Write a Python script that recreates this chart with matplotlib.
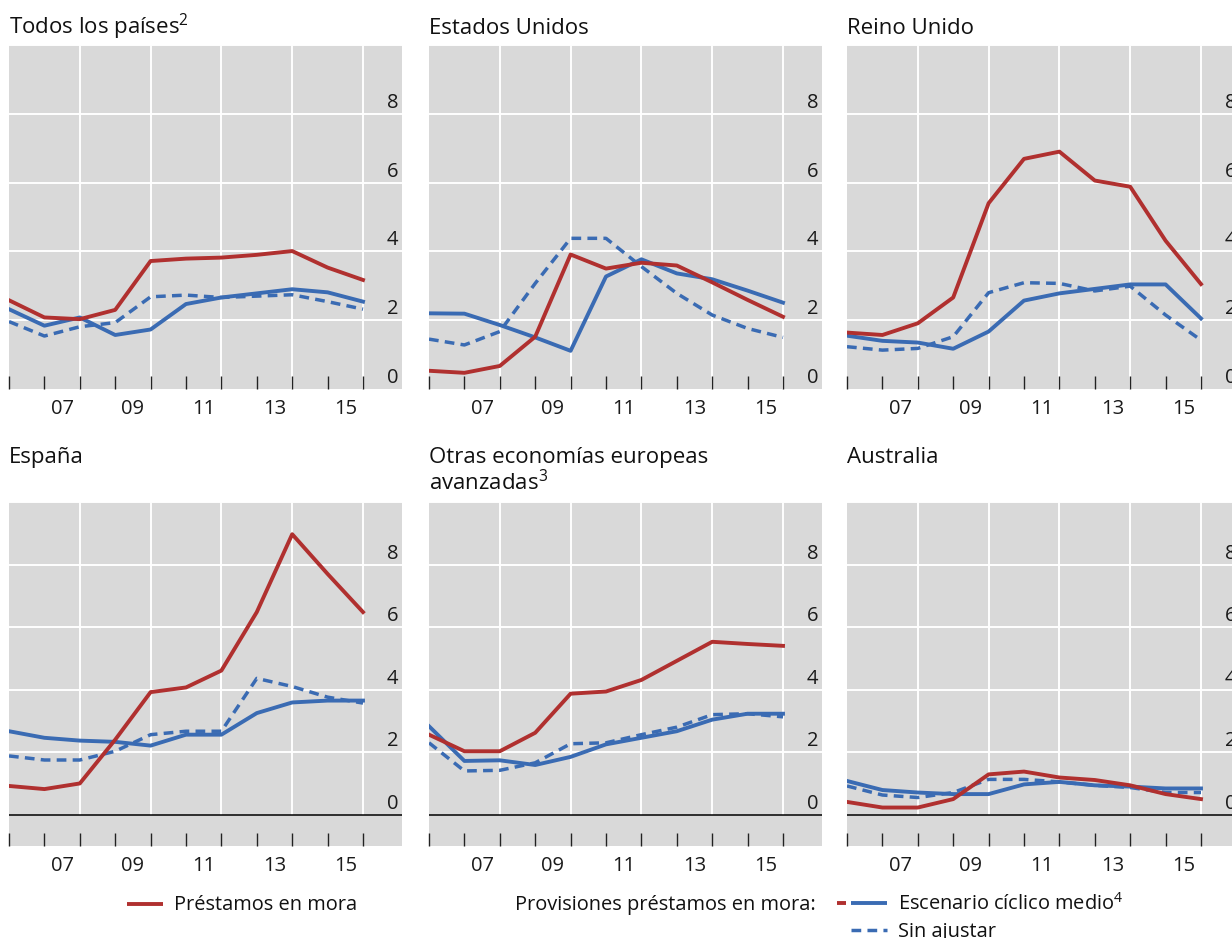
import matplotlib
matplotlib.use("Agg")
import matplotlib.pyplot as plt
from matplotlib.lines import Line2D
from matplotlib import transforms as mtransforms

plt.rcParams['font.family'] = ['Open Sans', 'DejaVu Sans']
plt.rcParams['mathtext.fontset'] = 'custom'
plt.rcParams['mathtext.rm'] = 'Open Sans'
plt.rcParams['mathtext.it'] = 'Open Sans:italic'
plt.rcParams['mathtext.bf'] = 'Open Sans:bold'

# ---------------- data ----------------
years = list(range(2005, 2016))            # year-end observations
xtick_years = [2007, 2009, 2011, 2013, 2015]
xtick_labels = ['07', '09', '11', '13', '15']
ytick_values = [0, 2, 4, 6, 8]

titles = [
    ["Todos los países$^2$"],
    ["Estados Unidos"],
    ["Reino Unido"],
    ["España"],
    ["Otras economías europeas", "avanzadas$^3$"],
    ["Australia"],
]

# Préstamos en mora
npl_todos = [2.58, 2.08, 2.03, 2.30, 3.72, 3.79, 3.82, 3.90, 4.01, 3.53, 3.17]
npl_eeuu = [0.53, 0.47, 0.67, 1.52, 3.91, 3.50, 3.67, 3.59, 3.10, 2.59, 2.10]
npl_ru = [1.64, 1.57, 1.91, 2.66, 5.40, 6.69, 6.90, 6.06, 5.88, 4.31, 3.05]
npl_esp = [0.92, 0.82, 1.00, 2.40, 3.92, 4.07, 4.61, 6.48, 8.97, 7.70, 6.48]
npl_otras = [2.56, 2.03, 2.03, 2.62, 3.87, 3.94, 4.31, 4.92, 5.53, 5.46, 5.40]
npl_aus = [0.41, 0.23, 0.23, 0.50, 1.29, 1.38, 1.19, 1.11, 0.94, 0.66, 0.50]

# Provisiones: escenario cíclico medio
cyc_todos = [2.32, 1.84, 2.08, 1.57, 1.73, 2.47, 2.66, 2.78, 2.90, 2.81, 2.54]
cyc_eeuu = [2.20, 2.19, 1.86, 1.50, 1.11, 3.27, 3.77, 3.36, 3.19, 2.86, 2.51]
cyc_ru = [1.55, 1.40, 1.35, 1.17, 1.67, 2.57, 2.78, 2.91, 3.04, 3.04, 2.05]
cyc_esp = [2.67, 2.46, 2.37, 2.33, 2.21, 2.56, 2.56, 3.25, 3.59, 3.65, 3.65]
cyc_otras = [2.83, 1.72, 1.74, 1.59, 1.85, 2.25, 2.46, 2.67, 3.04, 3.23, 3.23]
cyc_aus = [1.08, 0.79, 0.71, 0.66, 0.66, 0.97, 1.05, 0.94, 0.90, 0.84, 0.84]

# Provisiones: sin ajustar
raw_todos = [1.96, 1.54, 1.81, 1.93, 2.68, 2.73, 2.66, 2.70, 2.74, 2.54, 2.32]
raw_eeuu = [1.45, 1.28, 1.67, 3.07, 4.38, 4.38, 3.56, 2.78, 2.15, 1.76, 1.50]
raw_ru = [1.23, 1.13, 1.18, 1.52, 2.80, 3.09, 3.07, 2.85, 2.99, 2.15, 1.42]
raw_esp = [1.88, 1.75, 1.75, 2.03, 2.56, 2.67, 2.67, 4.36, 4.10, 3.76, 3.57]
raw_otras = [2.30, 1.40, 1.42, 1.66, 2.27, 2.30, 2.56, 2.80, 3.20, 3.23, 3.13]
raw_aus = [0.92, 0.63, 0.55, 0.71, 1.13, 1.13, 1.05, 0.94, 0.87, 0.71, 0.71]

npl = [npl_todos, npl_eeuu, npl_ru, npl_esp, npl_otras, npl_aus]
cyc = [cyc_todos, cyc_eeuu, cyc_ru, cyc_esp, cyc_otras, cyc_aus]
raw = [raw_todos, raw_eeuu, raw_ru, raw_esp, raw_otras, raw_aus]

legend_npl = "Préstamos en mora"
legend_prov = "Provisiones préstamos en mora:"
legend_cyc = "Escenario cíclico medio$^4$"
legend_raw = "Sin ajustar"

# ---------------- style ----------------
RED = '#B0302F'
BLUE = '#3A6BB3'
BG = '#D9D9D9'
W, H = 1232, 938
FS_TITLE = 16
FS_TICK = 14.5
FS_LEG = 14.4

fig = plt.figure(figsize=(W / 100, H / 100), dpi=100)

col_left = [9, 429, 847]
row_top = [45, 502]
row_ylim = [(0, 10), (-1, 10)]
AX_W, AX_H = 393, 344
PX_PER_YEAR = 35.4


def rect(left, top):
    return [left / W, 1 - (top + AX_H) / H, AX_W / W, AX_H / H]


for i in range(6):
    r, c = divmod(i, 3)
    ax = fig.add_axes(rect(col_left[c], row_top[r]))
    ax.set_facecolor(BG)
    for s in ax.spines.values():
        s.set_visible(False)
    x = [y + 0.5 for y in years]
    x0 = years[0] + 0.5
    ax.set_xlim(x0, x0 + AX_W / PX_PER_YEAR)
    ylo, yhi = row_ylim[r]
    ax.set_ylim(ylo, yhi)

    # grid
    for v in ytick_values[1:] + [10]:
        ax.axhline(v, color='white', lw=1.4, zorder=1)
    for xv in x[2::2]:
        ax.vlines(xv, 0, yhi, color='white', lw=1.4, zorder=1)
    if ylo < 0:
        ax.axhline(0, color='black', lw=1.1, zorder=3)

    # ticks
    ax.set_xticks(x, labels=[''] * len(x))
    ax.set_xticks(xtick_years, labels=xtick_labels, minor=True)
    ax.tick_params(axis='x', which='major', direction='in', length=9.5,
                   width=1.0, color='#222222', bottom=True, top=False)
    ax.tick_params(axis='x', which='minor', length=0, pad=7,
                   labelsize=FS_TICK, labelcolor='#1a1a1a')
    ax.set_yticks([])

    trans = mtransforms.offset_copy(
        mtransforms.blended_transform_factory(ax.transAxes, ax.transData),
        fig=fig, x=-3.5, y=6, units='dots')
    for v in ytick_values:
        ax.text(1.0, v, str(v), transform=trans, ha='right', va='baseline',
                fontsize=FS_TICK, color='#1a1a1a', zorder=5, clip_on=False)

    # series
    ax.plot(x, raw[i], color=BLUE, lw=2.5, dashes=(2.8, 1.8), zorder=4)
    ax.plot(x, cyc[i], color=BLUE, lw=2.8, zorder=4)
    ax.plot(x, npl[i], color=RED, lw=2.8, zorder=4)

    # titles
    base = 34 if r == 0 else 463
    for k, line in enumerate(titles[i]):
        fig.text(col_left[c] / W, 1 - (base + 27 * k) / H, line,
                 ha='left', va='baseline', fontsize=FS_TITLE, color='#111111')

# ---------------- legend ----------------
def fx(px):
    return px / W


def fy(py):
    return 1 - py / H


fig.add_artist(Line2D([fx(127), fx(163)], [fy(904)] * 2, color=RED, lw=2.8,
                      solid_capstyle='butt', transform=fig.transFigure))
fig.text(fx(174), fy(910), legend_npl, ha='left', va='baseline',
         fontsize=FS_LEG, color='#111111')
fig.text(fx(515), fy(910), legend_prov, ha='left', va='baseline',
         fontsize=FS_LEG, color='#111111')
fig.add_artist(Line2D([fx(837), fx(846)], [fy(903)] * 2, color=RED, lw=2.8,
                      solid_capstyle='butt', transform=fig.transFigure))
fig.add_artist(Line2D([fx(851), fx(887)], [fy(903)] * 2, color=BLUE, lw=2.8,
                      solid_capstyle='butt', transform=fig.transFigure))
fig.text(fx(898), fy(910), legend_cyc, ha='left', va='baseline',
         fontsize=FS_LEG, color='#111111')
fig.add_artist(Line2D([fx(851), fx(887)], [fy(930)] * 2, color=BLUE, lw=2.5,
                      dashes=(2.8, 1.8), transform=fig.transFigure))
fig.text(fx(898), fy(937), legend_raw, ha='left', va='baseline',
         fontsize=FS_LEG, color='#111111')

fig.savefig('out.png', dpi=100)
